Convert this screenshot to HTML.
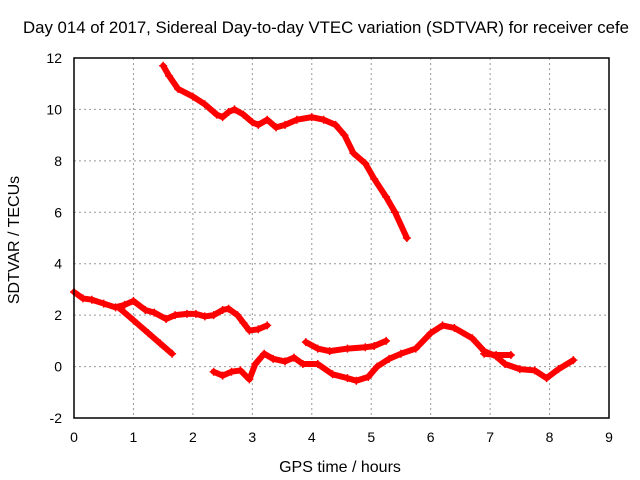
<!DOCTYPE html>
<html><head><meta charset="utf-8"><style>
body{margin:0;background:#fff}
svg{display:block;font-family:"Liberation Sans",sans-serif;font-size:14px}
</style></head><body>
<svg id="c" width="640" height="480">
<text x="326" y="33" text-anchor="middle" font-size="16.8">Day 014 of 2017, Sidereal Day-to-day VTEC variation (SDTVAR) for receiver cefe</text>
<text x="340" y="472" text-anchor="middle" font-size="16">GPS time / hours</text>
<text transform="translate(19,240) rotate(-90)" text-anchor="middle" font-size="16">SDTVAR / TECUs</text>
<g id="grid"></g><g id="ticks"></g><g id="marks"></g>
<rect x="74" y="58" width="535" height="360" fill="none" stroke="#000" stroke-width="1.5"/>
</svg>
<script>
const xTicks=[0,1,2,3,4,5,6,7,8,9];
const yTicks=[-2,0,2,4,6,8,10,12];
const segA_t=[1.5,1.6,1.75,2.0,2.2,2.4,2.5,2.6,2.7,2.85,3.0,3.1,3.25,3.4,3.55,3.75,4.0,4.2,4.4,4.55,4.7,4.9,5.05,5.25,5.4,5.6];
const segA_v=[11.7,11.3,10.8,10.5,10.2,9.8,9.7,9.9,10.0,9.8,9.5,9.4,9.6,9.3,9.4,9.6,9.7,9.6,9.4,9.0,8.3,7.9,7.3,6.6,6.0,5.0];
const segB_t=[0,0.15,0.3,0.5,0.7,0.85,1.0,1.2,1.35,1.55,1.7,1.9,2.05,2.2,2.35,2.5,2.6,2.75,2.85,2.95,3.1,3.25];
const segB_v=[2.9,2.65,2.6,2.45,2.3,2.4,2.55,2.2,2.1,1.85,2.0,2.05,2.05,1.95,2.0,2.2,2.25,2.0,1.7,1.4,1.45,1.6];
const segC_t=[0.75,1.0,1.25,1.45,1.65];
const segC_v=[2.3,1.8,1.3,0.9,0.5];
const segD_t=[2.35,2.5,2.65,2.8,2.95,3.05,3.2,3.35,3.55,3.7,3.85,4.1,4.35,4.6,4.75,4.95,5.1,5.3,5.5,5.75,6.0,6.2,6.4,6.7,6.9,7.1,7.25,7.5,7.75,7.95,8.15,8.4];
const segD_v=[-0.2,-0.35,-0.2,-0.15,-0.5,0.1,0.5,0.3,0.2,0.35,0.1,0.1,-0.3,-0.45,-0.55,-0.4,0.0,0.3,0.5,0.7,1.3,1.6,1.5,1.1,0.6,0.4,0.1,-0.1,-0.15,-0.45,-0.1,0.25];
const segE_t=[3.9,4.1,4.3,4.6,4.9,5.05,5.25];
const segE_v=[0.95,0.7,0.6,0.7,0.75,0.8,1.0];
const segF_t=[6.9,7.1,7.35];
const segF_v=[0.5,0.45,0.45];
const X=t=>74+t*535/9, Y=v=>58+(12-v)*360/14;
const NS="http://www.w3.org/2000/svg";
function mk(tag,a,p){const e=document.createElementNS(NS,tag);for(const k in a)e.setAttribute(k,a[k]);p.appendChild(e);return e;}
const g=document.getElementById('grid'),tk=document.getElementById('ticks'),m=document.getElementById('marks');
xTicks.forEach(t=>{
 if(t>0&&t<9){const l=mk('line',{x1:X(t),x2:X(t),y1:58,y2:418,stroke:'#999','stroke-dasharray':'2,3'},g);
 }
 const s=mk('text',{x:X(t),y:442,'text-anchor':'middle'},tk);s.textContent=t;
 
});
yTicks.forEach(v=>{
 if(v>-2&&v<12){const l=mk('line',{x1:74,x2:609,y1:Y(v),y2:Y(v),stroke:'#999','stroke-dasharray':'2,3'},g);
 }
 const s=mk('text',{x:62,y:Y(v)+5,'text-anchor':'end'},tk);s.textContent=v;
 
});
[[segA_t,segA_v],[segB_t,segB_v],[segC_t,segC_v],[segD_t,segD_v],[segE_t,segE_v],[segF_t,segF_v]].forEach(([ts,vs],i)=>{
 const pts=ts.map((t,j)=>X(t)+','+Y(vs[j])).join(' ');
 const pl=mk('polyline',{points:pts,fill:'none',stroke:'#f00','stroke-width':6,'stroke-linejoin':'round','stroke-linecap':'round'},m);
 
 
 ts.forEach((t,j)=>{const x=X(t),y=Y(vs[j]);
  const p=mk('path',{d:`M${x-4},${y}H${x+4}M${x},${y-4}V${y+4}`,stroke:'#f00','stroke-width':1.5},m);
  
  });
});
</script>
</body></html>
